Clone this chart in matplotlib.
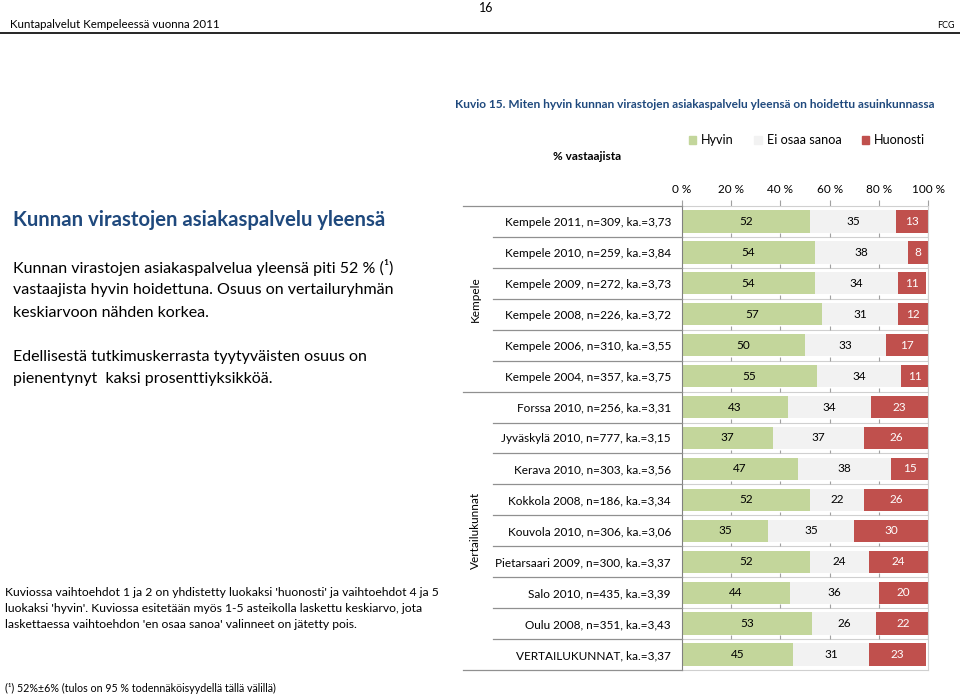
import matplotlib.pyplot as plt
from matplotlib.lines import Line2D
from matplotlib.patches import Patch

plt.rcParams['font.family'] = ['Lato', 'DejaVu Sans']

# data
labels = ["Kempele 2011, n=309, ka.=3,73", "Kempele 2010, n=259, ka.=3,84",
          "Kempele 2009, n=272, ka.=3,73", "Kempele 2008, n=226, ka.=3,72",
          "Kempele 2006, n=310, ka.=3,55", "Kempele 2004, n=357, ka.=3,75",
          "Forssa 2010, n=256, ka.=3,31", "Jyväskylä 2010, n=777, ka.=3,15",
          "Kerava 2010, n=303, ka.=3,56", "Kokkola 2008, n=186, ka.=3,34",
          "Kouvola 2010, n=306, ka.=3,06", "Pietarsaari 2009, n=300, ka.=3,37",
          "Salo 2010, n=435, ka.=3,39", "Oulu 2008, n=351, ka.=3,43",
          "VERTAILUKUNNAT, ka.=3,37"]
hyvin = [52, 54, 54, 57, 50, 55, 43, 37, 47, 52, 35, 52, 44, 53, 45]
eos = [35, 38, 34, 31, 33, 34, 34, 37, 38, 22, 35, 24, 36, 26, 31]
huonosti = [13, 8, 11, 12, 17, 11, 23, 26, 15, 26, 30, 24, 20, 22, 23]
series_names = ["Hyvin", "Ei osaa sanoa", "Huonosti"]
colors = ["#c3d69b", "#f2f2f2", "#c0504d"]
text_colors = ["black", "black", "white"]
groups = [("Kempele", 0, 6), ("Vertailukunnat", 6, 15)]

W, H = 960, 696
fig = plt.figure(figsize=(W / 100, H / 100), dpi=100)


def fx(x):
    return x / W


def fy(y):
    return 1 - y / H


# header
fig.text(fx(486), fy(8), "16", ha='center', va='center', fontsize=9)
fig.text(fx(10), fy(24), "Kuntapalvelut Kempeleessä vuonna 2011", ha='left', va='center', fontsize=8.3)
fig.text(fx(955), fy(25), "FCG", ha='right', va='center', fontsize=6.5)
fig.add_artist(Line2D([0, 1], [fy(33), fy(33)], color='black', lw=1.2))

# left text
blue = "#1f497d"
fig.text(fx(13), fy(220), "Kunnan virastojen asiakaspalvelu yleensä", ha='left', va='center',
         fontsize=14.6, fontweight='bold', color=blue)
para1 = ["Kunnan virastojen asiakaspalvelua yleensä piti 52 % (¹)",
         "vastaajista hyvin hoidettuna. Osuus on vertailuryhmän",
         "keskiarvoon nähden korkea."]
for i, t in enumerate(para1):
    fig.text(fx(13), fy(268 + i * 22.5), t, ha='left', va='center', fontsize=11.5)
para2 = ["Edellisestä tutkimuskerrasta tyytyväisten osuus on",
         "pienentynyt  kaksi prosenttiyksikköä."]
for i, t in enumerate(para2):
    fig.text(fx(13), fy(357 + i * 22), t, ha='left', va='center', fontsize=11.5)
notes = ["Kuviossa vaihtoehdot 1 ja 2 on yhdistetty luokaksi 'huonosti' ja vaihtoehdot 4 ja 5",
         "luokaksi 'hyvin'. Kuviossa esitetään myös 1-5 asteikolla laskettu keskiarvo, jota",
         "laskettaessa vaihtoehdon 'en osaa sanoa' valinneet on jätetty pois."]
for i, t in enumerate(notes):
    fig.text(fx(5), fy(592 + i * 16), t, ha='left', va='center', fontsize=8.7)
fig.text(fx(5), fy(688), "(¹) 52%±6% (tulos on 95 % todennäköisyydellä tällä välillä)",
         ha='left', va='center', fontsize=7.7)

# chart title
fig.text(fx(455), fy(105), "Kuvio 15. Miten hyvin kunnan virastojen asiakaspalvelu yleensä on hoidettu asuinkunnassa",
         ha='left', va='center', fontsize=8.6, fontweight='bold', color=blue)
fig.text(fx(587), fy(156), "% vastaajista", ha='center', va='center', fontsize=8.5, fontweight='bold')

# bars
x0, x1, y0, y1 = 682, 928, 206, 670
ax = fig.add_axes([fx(x0), fy(y1), fx(x1) - fx(x0), fy(y0) - fy(y1)])
n = len(labels)
ypos = list(range(n))
left = [0] * n
for vals, c, tc, name in zip([hyvin, eos, huonosti], colors, text_colors, series_names):
    ax.barh(ypos, vals, left=left, height=0.72, color=c, label=name)
    for yy, v, l in zip(ypos, vals, left):
        ax.text(l + v / 2, yy, str(v), ha='center', va='center', fontsize=8.5, color=tc)
    left = [a + b for a, b in zip(left, vals)]

ax.set_xlim(0, 100)
ax.set_ylim(n - 0.5, -0.5)
ax.xaxis.tick_top()
ax.set_xticks([0, 20, 40, 60, 80, 100])
ax.set_xticklabels(["0 %", "20 %", "40 %", "60 %", "80 %", "100 %"], fontsize=8.5)
ax.tick_params(axis='x', length=4, color='#a0a0a0', pad=4)
ax.set_yticks(ypos)
ax.set_yticklabels(labels, fontsize=8.5)
ax.tick_params(axis='y', length=0, pad=8)
ax.spines['left'].set_color('#808080')
for s in ['top', 'bottom', 'right']:
    ax.spines[s].set_color('#d0d0d0')

# row separators and small tick marks
for b in range(1, n):
    ax.axhline(b - 0.5, color='#d0d0d0', lw=0.8)
    ax.vlines([20, 40, 60, 80, 100], b - 0.62, b - 0.5, color='#a0a0a0', lw=0.8)

# label area lines
row_h = (y1 - y0) / n
group_edges = [0, 6, 15]
for b in range(n + 1):
    yy = y0 + b * row_h
    xs = 463 if b in group_edges else 493
    fig.add_artist(Line2D([fx(xs), fx(x0)], [fy(yy), fy(yy)], color='#909090', lw=0.9))
for name, a, b in groups:
    yc = y0 + (a + b) / 2 * row_h
    fig.text(fx(475), fy(yc), name, rotation=90, ha='center', va='center', fontsize=8.5)

# legend
handles = [Patch(color=c, label=nm) for c, nm in zip(colors, series_names)]
fig.legend(handles=handles, loc='center', bbox_to_anchor=(fx(807), fy(140)), ncol=3,
           frameon=False, fontsize=9.1, handlelength=0.6, handleheight=0.6,
           handletextpad=0.4, columnspacing=1.6)

fig.savefig("out.png", dpi=100)
